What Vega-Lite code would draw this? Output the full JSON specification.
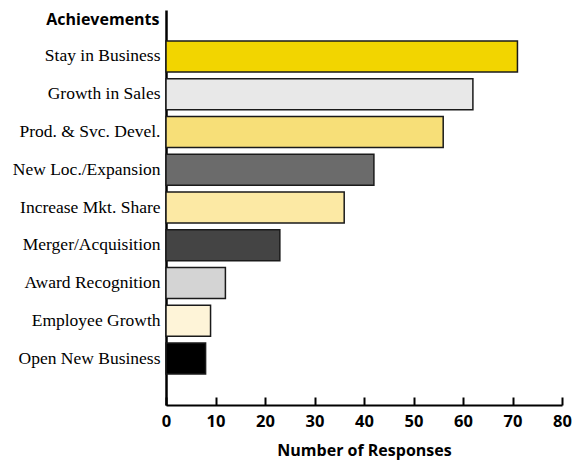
{
  "$schema": "https://vega.github.io/schema/vega-lite/v6.json",
  "autosize": {"type": "none"},
  "width": 396,
  "height": 395,
  "padding": {"left": 166, "top": 10, "right": 10, "bottom": 55},
  "background": "white",
  "config": {"view": {"stroke": null}},
  "data": {
    "values": [
      {"achievement": "Stay in Business", "responses": 71},
      {"achievement": "Growth in Sales", "responses": 62},
      {"achievement": "Prod. & Svc. Devel.", "responses": 56},
      {"achievement": "New Loc./Expansion", "responses": 42},
      {"achievement": "Increase Mkt. Share", "responses": 36},
      {"achievement": "Merger/Acquisition", "responses": 23},
      {"achievement": "Award Recognition", "responses": 12},
      {"achievement": "Employee Growth", "responses": 9},
      {"achievement": "Open New Business", "responses": 8}
    ]
  },
  "mark": {"type": "bar", "stroke": "#1a1a1a", "strokeWidth": 1.5},
  "encoding": {
    "y": {
      "field": "achievement",
      "type": "nominal",
      "sort": null,
      "scale": {"paddingInner": 0.18, "paddingOuter": 0.82},
      "axis": {
        "title": "Achievements",
        "titleAngle": 0,
        "titleAlign": "right",
        "titleBaseline": "alphabetic",
        "titleX": -7,
        "titleY": 14,
        "titleFont": "Open Sans",
        "titleFontSize": 16,
        "titleFontWeight": "bold",
        "titleColor": "black",
        "labelFont": "Liberation Serif",
        "labelFontSize": 17.5,
        "labelColor": "black",
        "labelPadding": 6,
        "ticks": false,
        "domainColor": "black",
        "domainWidth": 2.5
      }
    },
    "x": {
      "field": "responses",
      "type": "quantitative",
      "scale": {"domain": [0, 80]},
      "axis": {
        "title": "Number of Responses",
        "titleFont": "Open Sans",
        "titleFontSize": 16,
        "titleFontWeight": "bold",
        "titleColor": "black",
        "titlePadding": 13,
        "values": [0, 10, 20, 30, 40, 50, 60, 70, 80],
        "labelFlush": false,
        "labelFont": "Open Sans",
        "labelFontSize": 16.5,
        "labelFontWeight": "bold",
        "labelColor": "black",
        "labelPadding": 16,
        "tickSize": -8,
        "tickWidth": 2,
        "tickColor": "black",
        "domainColor": "black",
        "domainWidth": 2,
        "grid": false
      }
    },
    "color": {
      "field": "achievement",
      "type": "nominal",
      "legend": null,
      "scale": {
        "domain": ["Stay in Business", "Growth in Sales", "Prod. & Svc. Devel.", "New Loc./Expansion", "Increase Mkt. Share", "Merger/Acquisition", "Award Recognition", "Employee Growth", "Open New Business"],
        "range": ["#F2D500", "#E8E8E8", "#F7DF78", "#6B6B6B", "#FCE9A4", "#444444", "#D4D4D4", "#FEF4D8", "#000000"]
      }
    }
  }
}
